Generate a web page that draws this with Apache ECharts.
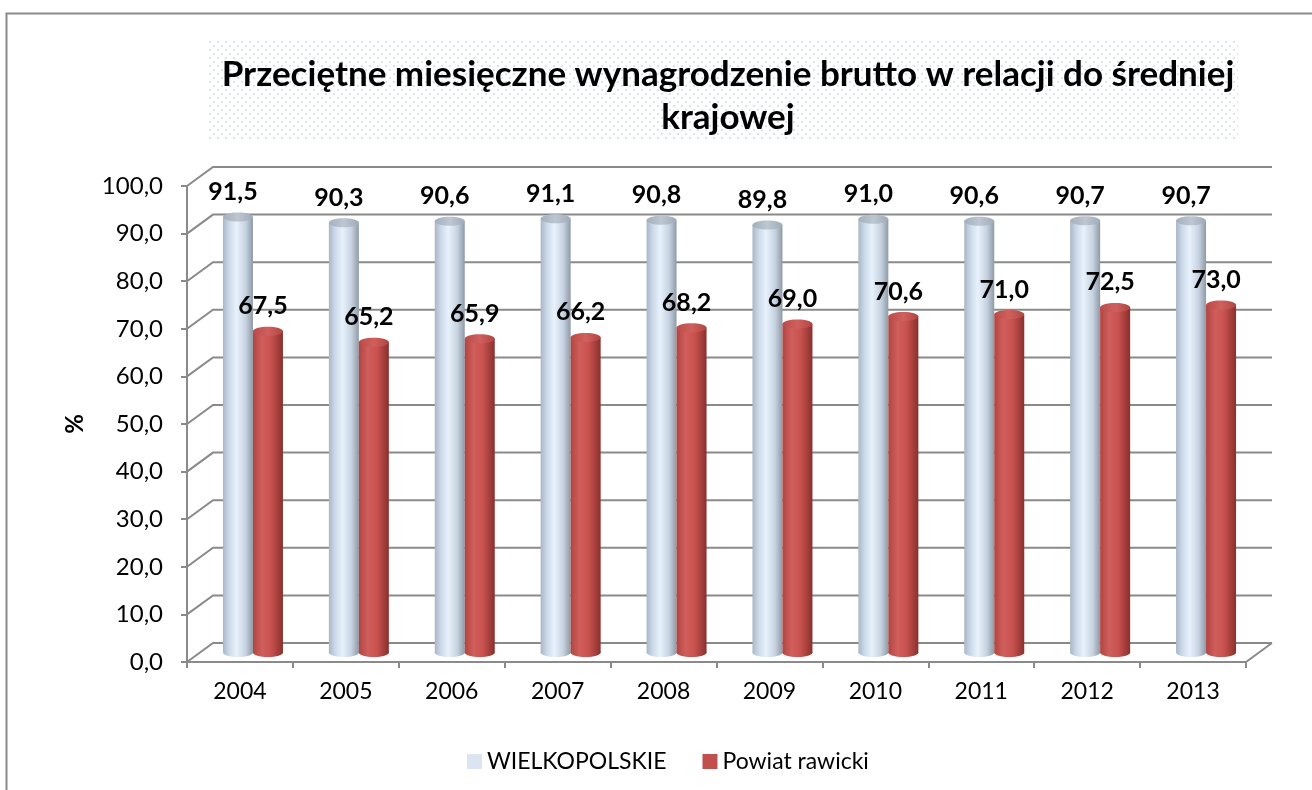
<!DOCTYPE html>
<html>
<head>
<meta charset="utf-8">
<script src="https://cdn.jsdelivr.net/npm/echarts@6/dist/echarts.min.js"></script>
<style>
    html, body { margin: 0; padding: 0; background: #fff; }
    #chart { width: 1312px; height: 790px; }
</style>
</head>
<body>
<div id="chart"></div>
<script>
var years = ['2004', '2005', '2006', '2007', '2008', '2009', '2010', '2011', '2012', '2013'];
var wielkopolskie = [91.5, 90.3, 90.6, 91.1, 90.8, 89.8, 91.0, 90.6, 90.7, 90.7];
var rawicki = [67.5, 65.2, 65.9, 66.2, 68.2, 69.0, 70.6, 71.0, 72.5, 73.0];
var yTicks = [0, 10, 20, 30, 40, 50, 60, 70, 80, 90, 100];

var FONT = 'Lato';
var DX = 26, DY = 19;        // depth of the 3d box (front -> back wall)
var BAR_W = 30;

function fmt(v) {
    return v.toFixed(1).replace('.', ',');
}

// dotted background behind the title
var dots = document.createElement('canvas');
dots.width = 8;
dots.height = 8;
~function () {
    var ctx = dots.getContext('2d');
    ctx.fillStyle = '#ffffff';
    ctx.fillRect(0, 0, 8, 8);
    ctx.fillStyle = '#dbe3ee';
    ctx.fillRect(1, 1, 2, 2);
    ctx.fillRect(5, 5, 2, 2);
}();

function grad(stops) {
    return {
        type: 'linear', x: 0, y: 0, x2: 1, y2: 0,
        colorStops: stops.map(function (s) { return {offset: s[0], color: s[1]}; })
    };
}

var blueBody = [[0, '#a9b6c5'], [0.2, '#cbd8e7'], [0.45, '#e8f2fd'], [0.75, '#c7d3e1'], [1, '#8f9aa7']];
var redBody = [[0, '#b04542'], [0.3, '#d05e5b'], [0.6, '#c9524f'], [1, '#8a302d']];

function cylinder(shift, body, cap) {
    return function (params, api) {
        var top = api.coord([api.value(0), api.value(1)]);
        var base = api.coord([api.value(0), 0]);
        var cx = top[0] + DX / 2 + shift;
        var ty = top[1] - DY / 2;
        var by = base[1] - DY / 2;
        return {
            type: 'group',
            children: [
                {type: 'rect', shape: {x: cx - BAR_W / 2, y: ty, width: BAR_W, height: by - ty}, style: {fill: grad(body)}},
                {type: 'ellipse', shape: {cx: cx, cy: by, rx: BAR_W / 2, ry: 4.5}, style: {fill: grad(body)}},
                {type: 'ellipse', shape: {cx: cx, cy: ty, rx: BAR_W / 2, ry: 4.5}, style: {fill: grad(cap)}},
                {type: 'text', x: cx - 5, y: ty - 25, style: {
                    text: fmt(api.value(1)), fill: '#000', font: 'bold 25px ' + FONT,
                    align: 'center', verticalAlign: 'middle'
                }}
            ]
        };
    };
}

var myChart = echarts.init(document.getElementById('chart'));
var option = {
    animation: false,
    textStyle: {fontFamily: FONT},
    title: {
        text: 'Przeciętne miesięczne wynagrodzenie brutto w relacji do średniej\nkrajowej',
        left: 723,
        top: 48,
        textAlign: 'center',
        textStyle: {fontFamily: FONT, fontSize: 35, fontWeight: 'bold', color: '#000', lineHeight: 43}
    },
    graphic: [
        {type: 'rect', z: -10, shape: {x: 6.5, y: 13.5, width: 1400, height: 900}, style: {fill: '#fff', stroke: '#8a8a8a', lineWidth: 2}},
        {type: 'rect', z: -5, shape: {x: 208, y: 40, width: 1030, height: 99}, style: {fill: {image: dots, repeat: 'repeat'}}}
    ],
    legend: {
        data: ['WIELKOPOLSKIE', 'Powiat rawicki'],
        left: 462,
        top: 745,
        icon: 'rect',
        itemWidth: 15,
        itemHeight: 15,
        itemGap: 36,
        textStyle: {fontFamily: FONT, fontSize: 23, color: '#000'}
    },
    grid: {left: 187, top: 186, width: 1059, height: 476, containLabel: false},
    xAxis: {
        type: 'category',
        data: years,
        axisLine: {lineStyle: {color: '#8a8a8a', width: 2}},
        axisTick: {show: true, length: 6, interval: 0, lineStyle: {color: '#8a8a8a', width: 2}},
        axisLabel: {color: '#000', fontSize: 23, margin: 18, interval: 0, fontFamily: FONT}
    },
    yAxis: {
        type: 'value',
        min: 0,
        max: 100,
        interval: 10,
        name: '%',
        nameLocation: 'middle',
        nameGap: 100,
        nameRotate: 90,
        nameTextStyle: {fontFamily: FONT, fontSize: 24, fontWeight: 'bold', color: '#000'},
        axisLine: {show: true, lineStyle: {color: '#8a8a8a', width: 2}},
        axisTick: {show: true, length: 6, lineStyle: {color: '#8a8a8a', width: 2}},
        axisLabel: {color: '#000', fontSize: 24, margin: 24, fontFamily: FONT, formatter: fmt},
        splitLine: {show: false}
    },
    series: [
        {
            name: 'walls',
            type: 'custom',
            silent: true,
            z: 1,
            data: yTicks.map(function (v) { return [0, v]; }),
            renderItem: function (params, api) {
                var cs = params.coordSys;
                var y = api.coord([0, api.value(1)])[1];
                var ls = {stroke: '#8a8a8a', lineWidth: 2, fill: null};
                var kids = [
                    {type: 'polyline', shape: {points: [[cs.x, y], [cs.x + DX, y - DY], [cs.x + cs.width + DX, y - DY]]}, style: ls}
                ];
                if (api.value(1) === 0) {
                    kids.push({type: 'line', shape: {x1: cs.x + cs.width, y1: y, x2: cs.x + cs.width + DX, y2: y - DY}, style: ls});
                }
                return {type: 'group', children: kids};
            }
        },
        {
            name: 'WIELKOPOLSKIE',
            type: 'custom',
            z: 3,
            itemStyle: {color: '#dbe5f1'},
            data: wielkopolskie.map(function (v, i) { return [i, v]; }),
            renderItem: cylinder(-BAR_W / 2, blueBody, [[0, '#a3afbc'], [0.5, '#bcc7d2'], [1, '#a0abb8']])
        },
        {
            name: 'Powiat rawicki',
            type: 'custom',
            z: 3,
            itemStyle: {color: '#c0504d'},
            data: rawicki.map(function (v, i) { return [i, v]; }),
            renderItem: cylinder(BAR_W / 2, redBody, [[0, '#b94b48'], [0.5, '#d0605d'], [1, '#b04542']])
        }
    ]
};
myChart.setOption(option);
</script>
</body>
</html>
